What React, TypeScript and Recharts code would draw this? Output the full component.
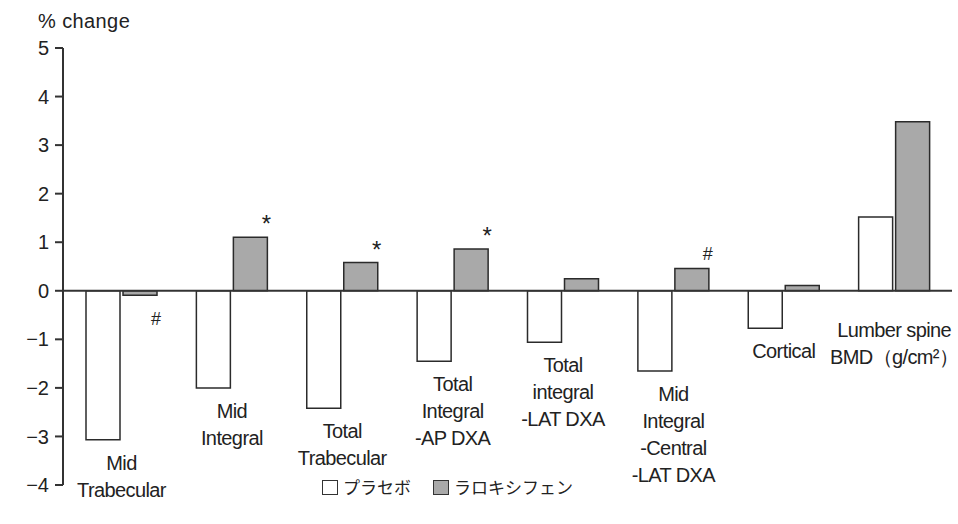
import React from "react";
import {
  BarChart,
  Bar,
  XAxis,
  YAxis,
  ReferenceLine,
  LabelList,
} from "recharts";

// Category labels, one entry per line
const categories = [
  ["Mid", "Trabecular"],
  ["Mid", "Integral"],
  ["Total", "Trabecular"],
  ["Total", "Integral", "-AP DXA"],
  ["Total", "integral", "-LAT DXA"],
  ["Mid", "Integral", "-Central", "-LAT DXA"],
  ["Cortical"],
  ["Lumber spine", "BMD（g/cm²）"],
];
const placebo = [-3.07, -2.0, -2.42, -1.45, -1.06, -1.65, -0.77, 1.52];
const raloxifene = [-0.09, 1.1, 0.58, 0.86, 0.25, 0.46, 0.11, 3.48];
const marks = ["#", "*", "*", "*", "", "#", "", ""];
const yTicks = [-4, -3, -2, -1, 0, 1, 2, 3, 4, 5];

const data = categories.map((lines, i) => ({
  name: lines.join(" "),
  placebo: placebo[i],
  raloxifene: raloxifene[i],
}));

const FONT = "'Liberation Sans', Arial, sans-serif";
const INK = "#222";

// bar rectangle from label props (height is negative below zero)
function boxOf(props: any) {
  const vb = props.viewBox ?? props;
  const x = Number(props.x ?? vb.x);
  const y = Number(props.y ?? vb.y);
  const w = Number(props.width ?? vb.width);
  const h = Number(props.height ?? vb.height);
  return { x, w, top: Math.min(y, y + h), bottom: Math.max(y, y + h) };
}

// Multi-line category name under each group
const CategoryLabel = (props: any) => {
  const { x, w, bottom } = boxOf(props);
  const i = props.index;
  const lines = categories[i];
  const center = x + w + 1.5;
  const first = placebo[i] < 0 ? bottom + 30 : bottom + 46;
  return (
    <text
      x={center}
      y={first}
      textAnchor="middle"
      fontSize={20}
      fontFamily={FONT}
      fill={INK}
      letterSpacing={-0.6}
    >
      {lines.map((line, k) => (
        <tspan key={k} x={center} y={first + k * 27}>
          {line}
        </tspan>
      ))}
    </text>
  );
};

// Significance marks next to the raloxifene bars
const MarkLabel = (props: any) => {
  const { x, w, top, bottom } = boxOf(props);
  const i = props.index;
  const m = marks[i];
  if (!m) return null;
  const y = raloxifene[i] >= 0 ? top - 8 : bottom + 30;
  return (
    <text
      x={x + w - 1}
      y={m === "*" ? y + 3 : y}
      textAnchor="middle"
      fontSize={m === "*" ? 24 : 18}
      fontFamily={FONT}
      fill={INK}
    >
      {m}
    </text>
  );
};

const fmt = (v: number) => (v < 0 ? `−${Math.abs(v)}` : `${v}`);

const legendBox = (fill: string): React.CSSProperties => ({
  display: "inline-block",
  width: 14,
  height: 13,
  border: "1.5px solid #333",
  background: fill,
  marginRight: 5,
});

export default function App() {
  return (
    <div
      style={{
        position: "absolute",
        left: 0,
        top: 0,
        width: 958,
        height: 524,
        background: "#fff",
      }}
    >
      <div
        style={{
          position: "absolute",
          left: 38,
          top: 9,
          fontSize: 20,
          lineHeight: "24px",
          fontFamily: FONT,
          color: INK,
          letterSpacing: 0.4,
        }}
      >
        % change
      </div>
      <BarChart
        width={958}
        height={524}
        data={data}
        margin={{ top: 48, right: 6, left: 0, bottom: 39 }}
        barGap={3}
      >
        <XAxis dataKey="name" hide padding={{ left: 3, right: 3 }} />
        <YAxis
          domain={[-4, 5]}
          ticks={yTicks}
          interval={0}
          width={63}
          tickSize={8}
          tickMargin={6}
          tickFormatter={fmt}
          axisLine={{ stroke: "#333", strokeWidth: 2 }}
          tickLine={{ stroke: "#333", strokeWidth: 2 }}
          tick={{ fill: INK, fontSize: 20, fontFamily: FONT }}
        />
        <ReferenceLine y={0} stroke="#333" strokeWidth={2} />
        <Bar
          dataKey="placebo"
          fill="#ffffff"
          stroke="#2b2b2b"
          strokeWidth={1.5}
          barSize={34}
          isAnimationActive={false}
        >
          <LabelList dataKey="placebo" content={CategoryLabel} />
        </Bar>
        <Bar
          dataKey="raloxifene"
          fill="#a9a9a9"
          stroke="#2b2b2b"
          strokeWidth={1.5}
          barSize={34}
          isAnimationActive={false}
        >
          <LabelList dataKey="raloxifene" content={MarkLabel} />
        </Bar>
      </BarChart>
      <div
        style={{
          position: "absolute",
          left: 322,
          top: 477,
          display: "flex",
          alignItems: "center",
          fontSize: 17,
          lineHeight: "20px",
          fontFamily: "'Noto Sans CJK JP', sans-serif",
          color: INK,
        }}
      >
        <span style={legendBox("#fff")} />
        <span style={{ marginRight: 22 }}>プラセボ</span>
        <span style={legendBox("#a9a9a9")} />
        <span>ラロキシフェン</span>
      </div>
    </div>
  );
}
